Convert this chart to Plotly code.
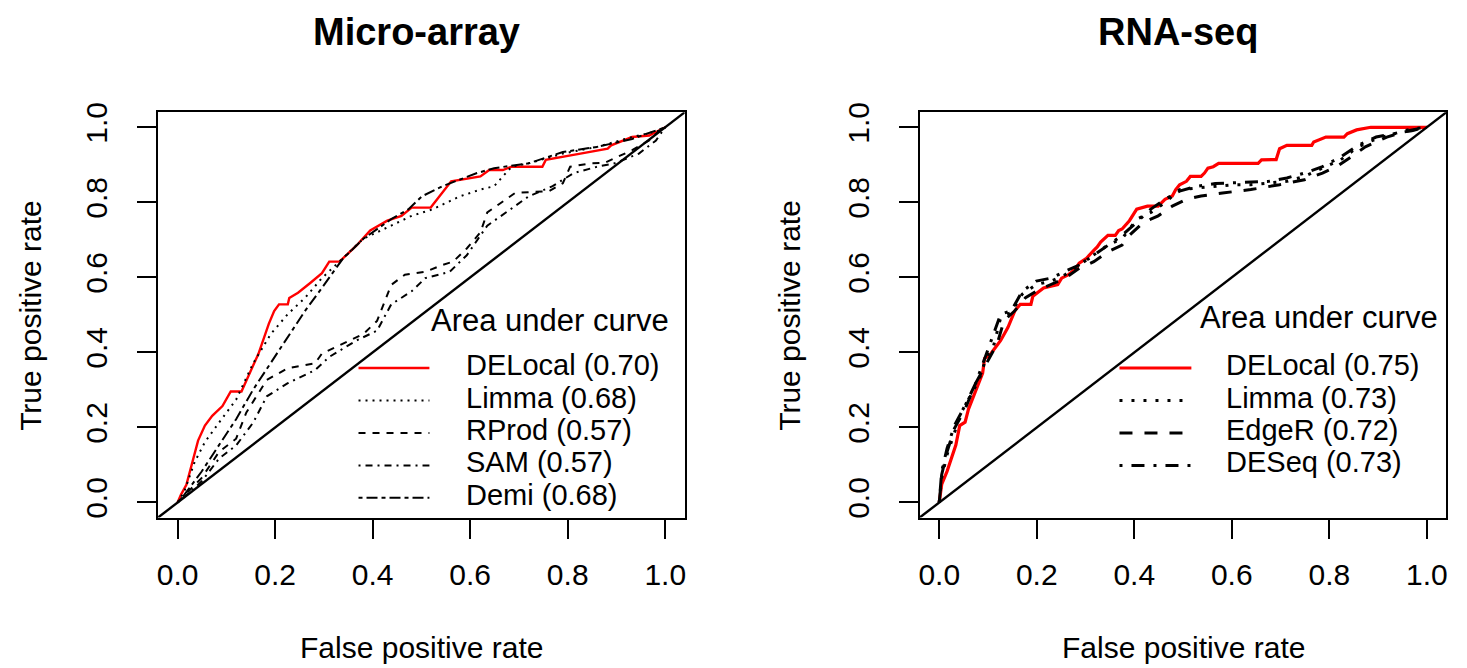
import plotly.graph_objects as go

# ---------------- data ----------------
# Micro-array panel
ma_delocal_fpr = [0, 0.007, 0.018, 0.028, 0.042, 0.056, 0.071, 0.092, 0.109, 0.131, 0.148, 0.166, 0.187, 0.198, 0.208, 0.226, 0.229, 0.247, 0.272, 0.296, 0.311, 0.332, 0.346, 0.367, 0.395, 0.430, 0.459, 0.480, 0.519, 0.543, 0.561, 0.621, 0.639, 0.667, 0.685, 0.748, 0.755, 0.826, 0.882, 0.889, 0.932, 0.967, 0.995, 1.0]
ma_delocal_tpr = [0, 0.021, 0.047, 0.095, 0.165, 0.205, 0.231, 0.257, 0.296, 0.296, 0.344, 0.397, 0.476, 0.510, 0.528, 0.528, 0.545, 0.559, 0.585, 0.611, 0.642, 0.642, 0.659, 0.685, 0.725, 0.751, 0.764, 0.786, 0.786, 0.825, 0.856, 0.869, 0.886, 0.886, 0.895, 0.895, 0.913, 0.930, 0.943, 0.952, 0.974, 0.978, 0.996, 1.0]

ma_limma_fpr = [0, 0.014, 0.035, 0.056, 0.085, 0.120, 0.155, 0.191, 0.226, 0.261, 0.296, 0.339, 0.381, 0.438, 0.480, 0.522, 0.579, 0.621, 0.649, 0.685, 0.720, 0.790, 0.861, 0.932, 0.988, 1.0]
ma_limma_tpr = [0, 0.030, 0.108, 0.161, 0.213, 0.274, 0.371, 0.449, 0.502, 0.545, 0.598, 0.650, 0.703, 0.738, 0.764, 0.781, 0.816, 0.834, 0.843, 0.895, 0.904, 0.930, 0.948, 0.974, 0.991, 1.0]

ma_rprod_fpr = [0, 0.028, 0.049, 0.085, 0.120, 0.141, 0.183, 0.226, 0.282, 0.296, 0.339, 0.381, 0.409, 0.438, 0.466, 0.508, 0.543, 0.565, 0.593, 0.621, 0.635, 0.692, 0.762, 0.790, 0.805, 0.847, 0.875, 0.932, 0.967, 0.988, 1.0]
ma_rprod_tpr = [0, 0.038, 0.065, 0.135, 0.170, 0.240, 0.327, 0.358, 0.371, 0.397, 0.423, 0.449, 0.484, 0.580, 0.607, 0.615, 0.633, 0.642, 0.677, 0.720, 0.773, 0.825, 0.830, 0.851, 0.895, 0.904, 0.905, 0.939, 0.965, 0.991, 1.0]

ma_sam_fpr = [0, 0.028, 0.049, 0.085, 0.120, 0.155, 0.183, 0.226, 0.282, 0.311, 0.367, 0.409, 0.438, 0.480, 0.508, 0.558, 0.593, 0.635, 0.692, 0.720, 0.769, 0.812, 0.861, 0.896, 0.946, 0.981, 0.995, 1.0]
ma_sam_tpr = [0, 0.030, 0.056, 0.117, 0.152, 0.213, 0.283, 0.318, 0.353, 0.388, 0.432, 0.458, 0.528, 0.563, 0.598, 0.615, 0.659, 0.738, 0.790, 0.816, 0.843, 0.878, 0.895, 0.904, 0.930, 0.965, 0.991, 1.0]

ma_demi_fpr = [0, 0.014, 0.049, 0.085, 0.120, 0.155, 0.191, 0.226, 0.261, 0.296, 0.339, 0.381, 0.438, 0.473, 0.501, 0.543, 0.579, 0.614, 0.649, 0.720, 0.790, 0.861, 0.932, 0.995, 1.0]
ma_demi_tpr = [0, 0.021, 0.082, 0.152, 0.222, 0.301, 0.371, 0.441, 0.510, 0.572, 0.650, 0.703, 0.755, 0.781, 0.816, 0.843, 0.860, 0.878, 0.891, 0.904, 0.934, 0.948, 0.969, 0.996, 1.0]

# RNA-seq panel
rs_delocal_fpr = [0, 0.005, 0.016, 0.023, 0.034, 0.042, 0.053, 0.060, 0.075, 0.089, 0.093, 0.104, 0.111, 0.126, 0.141, 0.155, 0.166, 0.188, 0.192, 0.214, 0.243, 0.251, 0.265, 0.280, 0.287, 0.302, 0.317, 0.324, 0.331, 0.346, 0.361, 0.368, 0.375, 0.390, 0.405, 0.427, 0.449, 0.463, 0.478, 0.485, 0.493, 0.507, 0.515, 0.537, 0.544, 0.551, 0.562, 0.573, 0.654, 0.661, 0.691, 0.698, 0.713, 0.764, 0.768, 0.793, 0.830, 0.837, 0.856, 0.885, 1.0]
rs_delocal_tpr = [0, 0.048, 0.083, 0.109, 0.153, 0.205, 0.214, 0.249, 0.301, 0.345, 0.384, 0.393, 0.406, 0.432, 0.467, 0.511, 0.528, 0.528, 0.550, 0.572, 0.581, 0.598, 0.607, 0.624, 0.638, 0.651, 0.672, 0.681, 0.694, 0.712, 0.712, 0.725, 0.729, 0.751, 0.782, 0.790, 0.790, 0.808, 0.817, 0.834, 0.847, 0.856, 0.869, 0.869, 0.878, 0.891, 0.895, 0.904, 0.904, 0.913, 0.914, 0.943, 0.952, 0.952, 0.961, 0.974, 0.974, 0.983, 0.993, 1.0, 1.0]

rs_limma_fpr = [0, 0.005, 0.016, 0.031, 0.045, 0.060, 0.082, 0.097, 0.111, 0.126, 0.148, 0.170, 0.199, 0.229, 0.258, 0.287, 0.317, 0.346, 0.375, 0.405, 0.434, 0.463, 0.493, 0.529, 0.566, 0.603, 0.639, 0.676, 0.713, 0.749, 0.786, 0.823, 0.859, 0.896, 0.933, 0.969, 1.0]
rs_limma_tpr = [0, 0.066, 0.127, 0.188, 0.240, 0.275, 0.328, 0.389, 0.415, 0.493, 0.507, 0.555, 0.581, 0.590, 0.607, 0.633, 0.659, 0.686, 0.703, 0.755, 0.773, 0.799, 0.834, 0.838, 0.843, 0.847, 0.847, 0.852, 0.856, 0.869, 0.891, 0.913, 0.948, 0.969, 0.983, 0.996, 1.0]

rs_edger_fpr = [0, 0.005, 0.016, 0.031, 0.053, 0.075, 0.097, 0.119, 0.133, 0.155, 0.177, 0.199, 0.229, 0.258, 0.287, 0.317, 0.346, 0.375, 0.390, 0.419, 0.449, 0.478, 0.507, 0.537, 0.581, 0.639, 0.698, 0.749, 0.786, 0.815, 0.845, 0.874, 0.918, 0.962, 1.0]
rs_edger_tpr = [0, 0.074, 0.135, 0.197, 0.249, 0.319, 0.371, 0.424, 0.485, 0.511, 0.546, 0.563, 0.581, 0.598, 0.624, 0.642, 0.668, 0.686, 0.712, 0.747, 0.764, 0.790, 0.808, 0.817, 0.825, 0.834, 0.847, 0.860, 0.878, 0.895, 0.921, 0.948, 0.974, 0.991, 1.0]

rs_deseq_fpr = [0, 0.005, 0.016, 0.031, 0.053, 0.075, 0.097, 0.126, 0.148, 0.170, 0.199, 0.229, 0.258, 0.287, 0.317, 0.346, 0.375, 0.405, 0.434, 0.463, 0.493, 0.529, 0.566, 0.603, 0.639, 0.676, 0.713, 0.749, 0.786, 0.823, 0.859, 0.896, 0.933, 0.969, 1.0]
rs_deseq_tpr = [0, 0.083, 0.144, 0.205, 0.258, 0.319, 0.397, 0.502, 0.511, 0.563, 0.590, 0.598, 0.616, 0.633, 0.659, 0.686, 0.712, 0.747, 0.782, 0.808, 0.830, 0.843, 0.850, 0.852, 0.853, 0.856, 0.865, 0.878, 0.895, 0.921, 0.952, 0.974, 0.983, 0.991, 1.0]

ma_labels = ["DELocal (0.70)", "Limma (0.68)", "RProd (0.57)", "SAM (0.57)", "Demi (0.68)"]
rs_labels = ["DELocal (0.75)", "Limma (0.73)", "EdgeR (0.72)", "DESeq (0.73)"]
panel_titles = ["Micro-array", "RNA-seq"]
x_title = "False positive rate"
y_title = "True positive rate"
legend_title = "Area under curve"
tick_vals = [0.0, 0.2, 0.4, 0.6, 0.8, 1.0]

# ---------------- styling ----------------
W, H = 1467, 668
FONT = "Liberation Sans, Arial, Helvetica, sans-serif"

ma_series = [
    (ma_delocal_fpr, ma_delocal_tpr, "red", 2.4, "solid"),
    (ma_limma_fpr, ma_limma_tpr, "black", 2, "2px,5px"),
    (ma_rprod_fpr, ma_rprod_tpr, "black", 2, "7px,7px"),
    (ma_sam_fpr, ma_sam_tpr, "black", 2, "2px,5px,7px,5px"),
    (ma_demi_fpr, ma_demi_tpr, "black", 2, "4px,4px,11px,4px"),
]
rs_series = [
    (rs_delocal_fpr, rs_delocal_tpr, "red", 3.2, "solid"),
    (rs_limma_fpr, rs_limma_tpr, "black", 3, "3px,9px"),
    (rs_edger_fpr, rs_edger_tpr, "black", 3, "13px,12px"),
    (rs_deseq_fpr, rs_deseq_tpr, "black", 3, "3px,9px,13px,9px"),
]

def px_x(p):
    return p / W

def px_y(p):
    return 1 - p / H

ROW0, ROW_STEP = 364, 33
panels = [
    dict(xa="x", ya="y", left=157.3, right=684.7, series=ma_series, labels=ma_labels,
         leg_line=(358, 429), leg_text=465.5, leg_title_x=428.5, leg_title_y=316, ylab_x=30),
    dict(xa="x2", ya="y2", left=920.0, right=1447.3, series=rs_series, labels=rs_labels,
         leg_line=(1120, 1192), leg_text=1227, leg_title_x=1199, leg_title_y=313, ylab_x=790),
]
TOP, BOTTOM = 104, 516
TXT_SHIFT = 3  # visual centre of text sits below the anchor box centre
LEG_FONT = 29

fig = go.Figure()
shapes = []
annotations = []

for i, p in enumerate(panels):
    for (xs, ys, col, lw, dash), lab in zip(p["series"], p["labels"]):
        fig.add_trace(go.Scatter(x=xs, y=ys, mode="lines", name=lab, showlegend=False,
                                 line=dict(color=col, width=lw, dash=dash),
                                 xaxis=p["xa"], yaxis=p["ya"]))
    # diagonal reference line (abline 0,1) spanning the plot region
    shapes.append(dict(type="line", xref=p["xa"], yref=p["ya"], x0=-0.04, y0=-0.04, x1=1.04, y1=1.04,
                       line=dict(color="black", width=2.4)))
    # manual legend (R style, no box)
    annotations.append(dict(text=legend_title, x=px_x(p["leg_title_x"]), y=px_y(p["leg_title_y"]),
                            xref="paper", yref="paper", xanchor="left", yanchor="middle",
                            showarrow=False, font=dict(size=31, family=FONT, color="black")))
    for k, ((xs, ys, col, lw, dash), lab) in enumerate(zip(p["series"], p["labels"])):
        row = ROW0 + k * ROW_STEP
        shapes.append(dict(type="line", xref="paper", yref="paper",
                           x0=px_x(p["leg_line"][0]), x1=px_x(p["leg_line"][1]),
                           y0=px_y(row), y1=px_y(row),
                           line=dict(color=col, width=lw, dash=dash)))
        annotations.append(dict(text=lab, x=px_x(p["leg_text"]), y=px_y(row - TXT_SHIFT),
                                xref="paper", yref="paper", xanchor="left", yanchor="middle",
                                borderpad=0, borderwidth=0,
                                showarrow=False, font=dict(size=LEG_FONT, family=FONT, color="black")))
    cx = (p["left"] + p["right"]) / 2
    annotations.append(dict(text="<b>%s</b>" % panel_titles[i], x=px_x(cx - 5), y=px_y(22),
                            xref="paper", yref="paper", xanchor="center", yanchor="middle",
                            showarrow=False, font=dict(size=38, family=FONT, color="black")))
    annotations.append(dict(text=x_title, x=px_x(cx), y=px_y(648),
                            xref="paper", yref="paper", xanchor="center", yanchor="middle",
                            showarrow=False, font=dict(size=30, family=FONT, color="black")))
    annotations.append(dict(text=y_title, x=px_x(p["ylab_x"]), y=px_y((TOP + BOTTOM) / 2),
                            xref="paper", yref="paper", xanchor="center", yanchor="middle",
                            textangle=-90, showarrow=False,
                            font=dict(size=30, family=FONT, color="black")))

axis_common = dict(range=[-0.04, 1.04], showgrid=False, zeroline=False, showline=True,
                   mirror=True, linecolor="black", linewidth=2.4, ticks="outside", ticklen=19,
                   tickwidth=2.4, tickcolor="black", tickvals=tick_vals, tickformat=".1f",
                   tickfont=dict(size=30, family=FONT, color="black"), fixedrange=True)

fig.update_layout(
    width=W, height=H, margin=dict(l=0, r=0, t=0, b=0),
    paper_bgcolor="white", plot_bgcolor="white", showlegend=False,
    xaxis=dict(domain=[px_x(157.3), px_x(684.7)], anchor="y", ticklabelstandoff=10, **axis_common),
    yaxis=dict(domain=[px_y(BOTTOM), px_y(TOP)], anchor="x", tickangle=-90, ticklabelstandoff=18, **axis_common),
    xaxis2=dict(domain=[px_x(920.0), px_x(1447.3)], anchor="y2", ticklabelstandoff=10, **axis_common),
    yaxis2=dict(domain=[px_y(BOTTOM), px_y(TOP)], anchor="x2", tickangle=-90, ticklabelstandoff=18, **axis_common),
    shapes=shapes, annotations=annotations,
)

fig.write_html("out.html")
